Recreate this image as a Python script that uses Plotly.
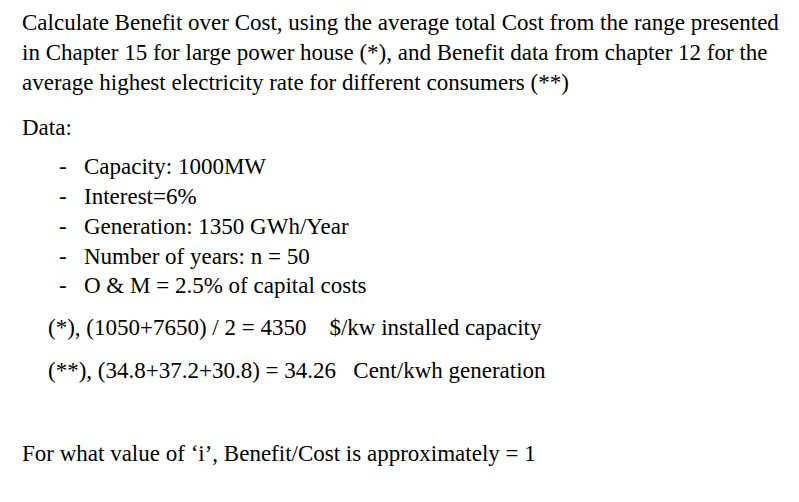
import plotly.graph_objects as go

intro_lines = [
    "Calculate Benefit over Cost, using the average total Cost from the range presented",
    "in Chapter 15 for large power house (*), and Benefit data from chapter 12 for the",
    "average highest electricity rate for different consumers (**)",
]
intro_y = [22, 52, 82]
data_label = "Data:"
bullets = [
    "Capacity: 1000MW",
    "Interest=6%",
    "Generation: 1350 GWh/Year",
    "Number of years: n = 50",
    "O &amp; M = 2.5% of capital costs",
]
bullet_y = [166, 196, 226, 256, 285]
notes = [
    "(*), (1050+7650) / 2 = 4350&nbsp;&nbsp;&nbsp;&nbsp;$/kw installed capacity",
    "(**), (34.8+37.2+30.8) = 34.26&nbsp;&nbsp;&nbsp;Cent/kwh generation",
]
notes_y = [327, 370]
question = "For what value of \u2018i\u2019, Benefit/Cost is approximately = 1"

font = dict(family="Liberation Serif", size=23, color="black")
DX, DY = -10, -8
fig = go.Figure()
ann = []
def add(x, y, t):
    ann.append(dict(x=x + DX, y=y + DY, text=t, xref="x", yref="y", showarrow=False,
                    xanchor="left", yanchor="middle", font=font))
for t, y in zip(intro_lines, intro_y):
    add(22, y, t)
add(22, 127, data_label)
for t, y in zip(bullets, bullet_y):
    add(59, y, "-")
    add(84, y, t)
for t, y in zip(notes, notes_y):
    add(48, y, t)
add(22, 453, question)

fig.update_layout(width=799, height=502, margin=dict(l=0, r=0, t=0, b=0),
                  paper_bgcolor="white", plot_bgcolor="white", annotations=ann,
                  xaxis=dict(range=[0, 799], visible=False, fixedrange=True),
                  yaxis=dict(range=[502, 0], visible=False, fixedrange=True),
                  showlegend=False)
fig.write_html("out.html")
